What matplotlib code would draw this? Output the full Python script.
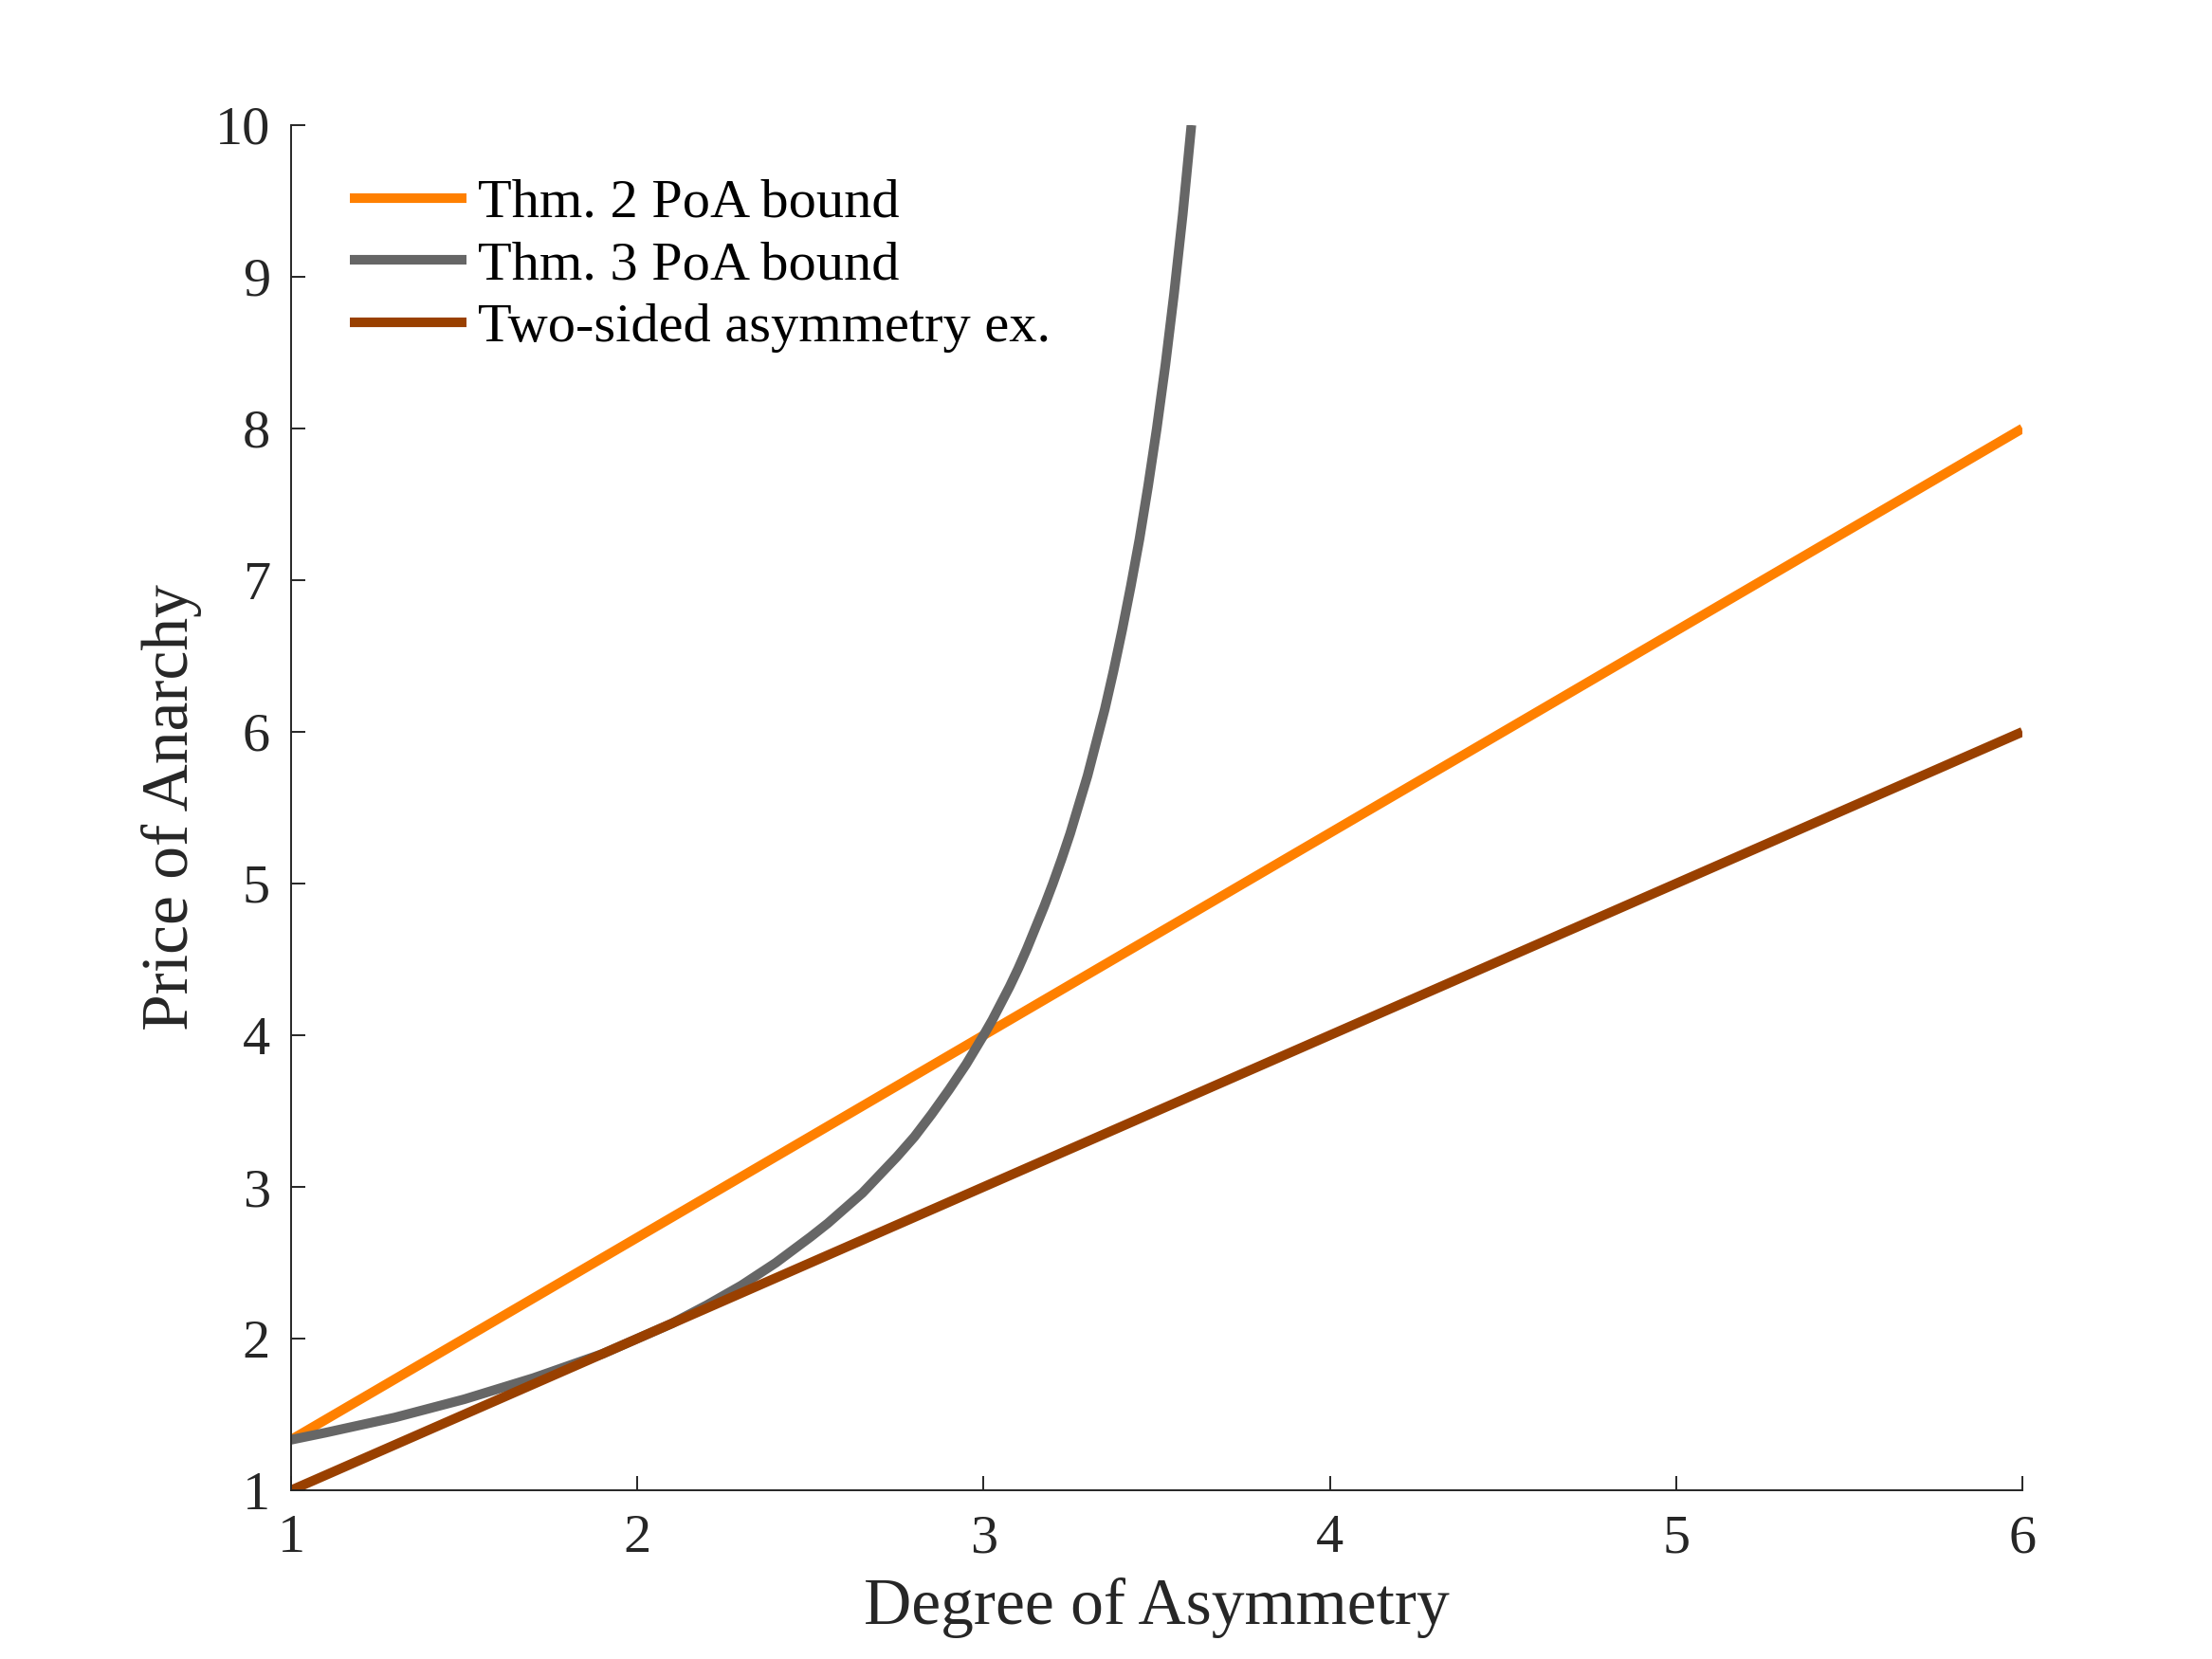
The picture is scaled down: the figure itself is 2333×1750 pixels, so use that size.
import matplotlib.pyplot as plt

# values
asym_x = [1, 6]
thm2_y = [1.333, 8.0]
two_sided_y = [1.0, 6.0]

thm3_x = [1.0, 1.1, 1.2, 1.3, 1.4, 1.5, 1.6, 1.7, 1.8, 1.9, 2.0, 2.1, 2.2,
          2.3, 2.4, 2.5, 2.55, 2.6, 2.65, 2.7, 2.75, 2.8, 2.85, 2.9, 2.95,
          3.0, 3.025, 3.05, 3.075, 3.1, 3.125, 3.15, 3.175, 3.2, 3.225, 3.25,
          3.275, 3.3, 3.325, 3.35, 3.375, 3.4, 3.425, 3.45, 3.475, 3.5,
          3.525, 3.55, 3.575, 3.6]
thm3_y = [1.333, 1.38, 1.43, 1.48, 1.54, 1.6, 1.67, 1.74, 1.82, 1.9, 2.0,
          2.1, 2.22, 2.35, 2.5, 2.67, 2.76, 2.86, 2.96, 3.08, 3.2, 3.33, 3.48,
          3.64, 3.81, 4.0, 4.1, 4.21, 4.32, 4.44, 4.57, 4.71, 4.85, 5.0, 5.16,
          5.33, 5.52, 5.71, 5.93, 6.15, 6.4, 6.67, 6.96, 7.27, 7.62, 8.0,
          8.42, 8.89, 9.41, 10.0]

labels = ["Thm. 2 PoA bound", "Thm. 3 PoA bound", "Two-sided asymmetry ex."]
colors = ["#ff8000", "#666666", "#994000"]

plt.rcParams['font.family'] = ['Liberation Serif', 'DejaVu Serif']
axis_color = "#262626"

fig = plt.figure(figsize=(23.33, 17.5), dpi=100)
ax = fig.add_axes([0.1316, 0.1017, 0.7827, 0.8229])

ax.plot(asym_x, thm2_y, color=colors[0], lw=7.3, label=labels[0], solid_capstyle='butt')
ax.plot(thm3_x, thm3_y, color=colors[1], lw=7.3, label=labels[1],
        solid_capstyle='butt', solid_joinstyle='round')
ax.plot(asym_x, two_sided_y, color=colors[2], lw=7.3, label=labels[2], solid_capstyle='butt')

ax.set_xlim(1, 6)
ax.set_ylim(1, 10)
ax.set_xticks([1, 2, 3, 4, 5, 6])
ax.set_yticks(range(1, 11))

for side in ["top", "right"]:
    ax.spines[side].set_visible(False)
for side in ["left", "bottom"]:
    ax.spines[side].set_color(axis_color)
    ax.spines[side].set_linewidth(1.4)

ax.tick_params(direction='in', length=11, width=1.4, color=axis_color,
               labelcolor=axis_color, labelsize=42)
ax.tick_params(axis='x', pad=18)
ax.tick_params(axis='y', pad=16)

ax.set_xlabel("Degree of Asymmetry", fontsize=50, color=axis_color, labelpad=11)
ax.set_ylabel("Price of Anarchy", fontsize=50, color=axis_color, labelpad=10)

ax.legend(loc='upper left', bbox_to_anchor=(0.034, 0.961), frameon=False,
          borderpad=0, borderaxespad=0, fontsize=42, handlelength=2.1,
          handletextpad=0.22, labelspacing=0.22)

fig.savefig("out.png", dpi=100, facecolor="white")
